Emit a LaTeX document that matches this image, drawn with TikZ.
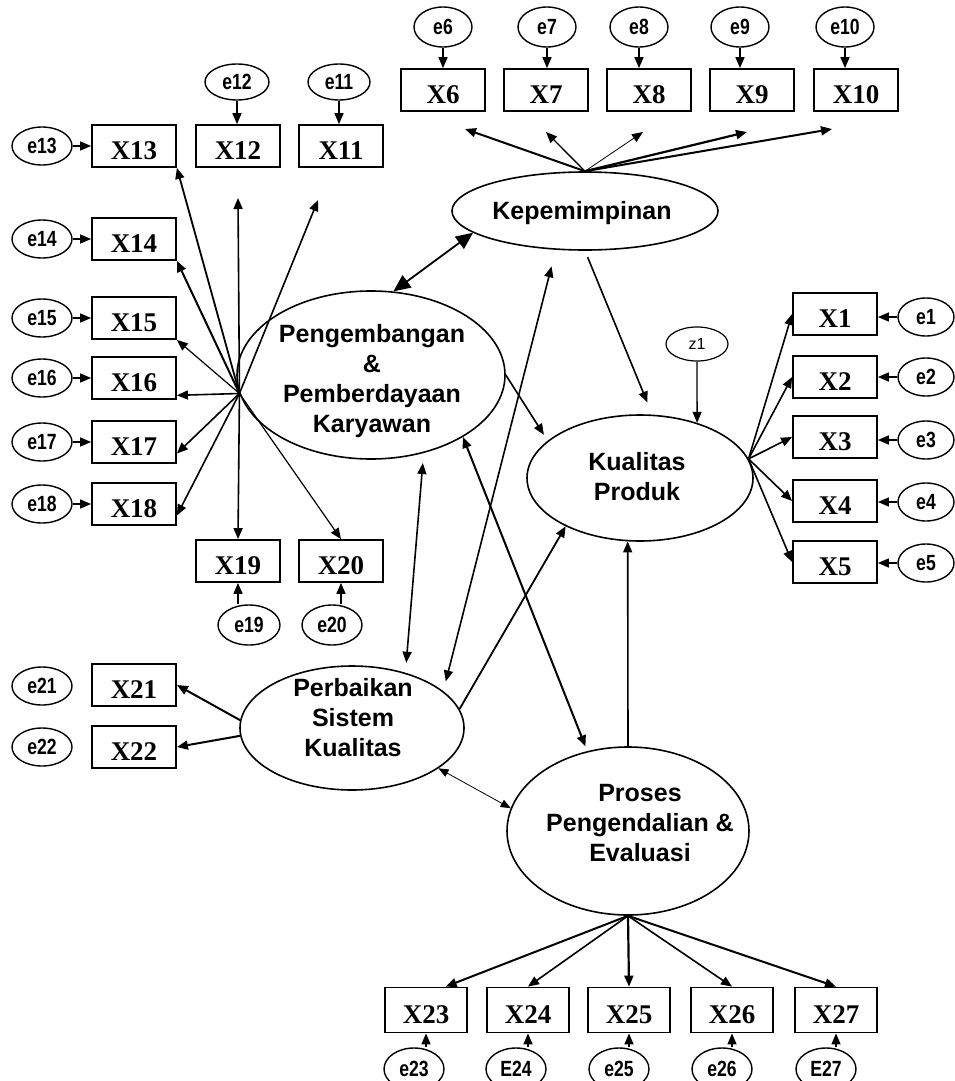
\documentclass[tikz,border=0pt]{standalone}
\usepackage{fontspec}
\setmainfont{Liberation Sans}
\newfontfamily\latf{Liberation Sans}
\newfontfamily\obsf{Liberation Serif}
\newfontfamily\errf{Liberation Sans}[FakeStretch=0.8]
\usetikzlibrary{shapes.geometric, arrows.meta, calc}
\tikzset{
 obs/.style={draw, line width=1.8pt, minimum width=84pt, minimum height=42pt, inner sep=0pt, text height=27pt, text depth=0pt, font=\obsf\bfseries\fontsize{27}{27}\selectfont},
 err/.style={draw, ellipse, line width=1.4pt, minimum width=60pt, minimum height=38pt, inner sep=0pt, font=\errf\bfseries\fontsize{22}{22}\selectfont},
 latent/.style={draw, ellipse, line width=1.6pt, inner sep=0pt},
 lattext/.style={align=center, inner sep=0pt, font=\latf\bfseries\fontsize{25}{30}\selectfont},
 arr/.style={-{Triangle[length=11pt,width=9pt]}, line width=1.6pt},
 darr/.style={{Triangle[length=11pt,width=9pt]}-{Triangle[length=11pt,width=9pt]}, line width=1.6pt},
 bigdarr/.style={{Triangle[length=17pt,width=15pt]}-{Triangle[length=17pt,width=15pt]}, line width=1.8pt},
}
\begin{document}
\begin{tikzpicture}[x=1pt,y=-1pt]
\useasboundingbox (0,0) rectangle (954,1081);

% ---------- latent variables
\node[latent, minimum width=266pt, minimum height=78pt] (kep) at (585,211) {};
\node[lattext] (kept) at (582,213) {Kepemimpinan};
\node[latent, minimum width=268pt, minimum height=168pt] (peng) at (371,375) {};
\node[lattext] (pengt) at (372,381) {Pengembangan\\\&\\Pemberdayaan\\Karyawan};
\node[latent, minimum width=226pt, minimum height=126pt] (kual) at (640,478) {};
\node[lattext] (kualt) at (637,477) {Kualitas\\Produk};
\node[latent, minimum width=224pt, minimum height=124pt] (perb) at (352,728) {};
\node[lattext] (perbt) at (353,718) {Perbaikan\\Sistem\\Kualitas};
\node[latent, minimum width=242pt, minimum height=168pt] (proc) at (628,831) {};
\node[lattext] (proct) at (640,823) {Proses\\Pengendalian \&\\Evaluasi};
\node[draw, ellipse, line width=1.2pt, minimum width=62pt, minimum height=34pt, inner sep=0pt, font=\latf\fontsize{16}{16}\selectfont] (z1) at (697,344) {z1};

% ---------- top indicators
\foreach \n/\x/\ex in {6/443/443, 7/546/547, 8/649/639, 9/752/740, 10/856/845}{
  \node[obs] (X\n) at (\x,90) {X\n};
  \node[err, minimum width=58pt, minimum height=40pt] (e\n) at (\ex,27) {e\n};
  \draw[arr] (e\n.south) -- (e\n.south |- X\n.north);
}
\coordinate (t6) at (465,129);
\coordinate (t7) at (546,132);
\coordinate (t8) at (643,132);
\coordinate (t9) at (747,132);
\coordinate (t10) at (832,129);
\draw[arr, line width=2pt] (kep.north) -- (t6);
\draw[arr, line width=1.3pt] (kep.north) -- (t7);
\draw[arr, line width=0.8pt] (kep.north) -- (t8);
\draw[arr, line width=2.2pt] (kep.north) -- (t9);
\draw[arr, line width=2pt] (kep.north) -- (t10);

% ---------- left indicators
\foreach \n/\y in {13/146, 14/239, 15/318, 16/378, 17/442, 18/504}{
  \node[obs] (X\n) at (134,\y) {X\n};
  \node[err] (e\n) at (42,\y) {e\n};
  \draw[arr] (e\n.east) -- (e\n.east -| X\n.west);
}
\node[obs] (X12) at (238,146) {X12};
\node[obs] (X11) at (341,146) {X11};
\node[err, minimum width=64pt, minimum height=36pt] (e12) at (237,82) {e12};
\node[err, minimum width=62pt, minimum height=36pt] (e11) at (339,82) {e11};
\draw[arr] (e12.south) -- (e12.south |- X12.north);
\draw[arr] (e11.south) -- (e11.south |- X11.north);
\node[obs] (X19) at (238,561) {X19};
\node[obs] (X20) at (341,561) {X20};
\node[err, minimum width=62pt, minimum height=40pt] (e19) at (249,625) {e19};
\node[err, minimum width=60pt, minimum height=40pt] (e20) at (332,625) {e20};
\draw[arr] (X19.south |- e19.north) -- (X19.south);
\draw[arr] (X20.south |- e20.north) -- (X20.south);
\node[obs] (X21) at (134,685) {X21};
\node[obs] (X22) at (134,747) {X22};
\node[err] (e21) at (42,686) {e21};
\node[err] (e22) at (42,747) {e22};

\coordinate (t12) at (238,198);
\coordinate (t11) at (318,200);
\draw[arr, line width=1.8pt] (peng.188) -- (X13.south east);
\draw[arr, line width=2pt] (peng.188) -- (X14.south east);
\draw[arr, line width=1.2pt] (peng.188) -- (X15.south east);
\draw[arr] (peng.188) -- (X16.-22);
\draw[arr] (peng.188) -- (X17.-15);
\draw[arr] (peng.188) -- (X18.-15);
\draw[arr] (peng.188) -- (X19.north);
\draw[arr, line width=1.2pt] (peng.188) -- (X20.north);
\draw[arr] (peng.188) -- (t12);
\draw[arr] (peng.188) -- (t11);

\draw[arr, line width=2pt] (perb.176) -- (X21.east);
\draw[arr, line width=2pt] (perb.184) -- (X22.east);

% ---------- right indicators
\foreach \n/\y/\ey in {1/314/317, 2/377/377, 3/437/440, 4/501/502, 5/562/563}{
  \node[obs] (X\n) at (835,\y) {X\n};
  \node[err, minimum width=56pt] (e\n) at (926,\ey) {e\n};
  \draw[arr] (e\n.west) -- (e\n.west -| X\n.east);
  \draw[arr] (kual.10) -- (X\n.west);
}

% ---------- bottom indicators
\foreach \n/\x/\ex/\el in {23/426/414/e23, 24/528/516/E24, 25/629/619/e25, 26/732/722/e26, 27/836/826/E27}{
  \node[obs, minimum width=82pt, minimum height=45pt] (X\n) at (\x,1010) {X\n};
  \node[err, minimum width=60pt, minimum height=42pt] (e\n) at (\ex,1069) {\el};
  \draw[arr] (X\n.south |- e\n.north) -- (X\n.south);
}
\draw[arr, line width=2pt] (proc.south) -- (X23.50);
\draw[arr, line width=1.6pt] (proc.south) -- (X24.north);
\draw[arr, line width=2.2pt] (proc.south) -- (X25.north);
\draw[arr, line width=1.6pt] (proc.south) -- (X26.north);
\draw[arr, line width=2pt] (proc.south) -- (X27.north);

% ---------- structural paths
\draw[bigdarr] (peng.75) -- (kep.191);
\draw[arr, shorten >=7pt] (peng.east) -- (kual.158);
\draw[darr, shorten <=10pt, shorten >=10pt] (peng.-56) -- (perb.46);
\draw[darr, line width=2pt, shorten >=5pt] (peng.-34) -- (proc.117);
\draw[darr, shorten <=10pt, shorten >=17pt] (perb.22) -- (kep.233);
\draw[arr, line width=1.8pt] (perb.10) -- (kual.213);
\draw[{Triangle[length=10pt,width=8pt]}-{Triangle[length=10pt,width=8pt]}, line width=0.8pt] (perb.-25) -- (proc.169);
\draw[arr] (proc.north) -- (kual.259);
\draw[arr, shorten <=7pt, shorten >=13pt] (kep.south) -- (kual.79);
\draw[arr, line width=1.3pt] (z1.south) -- (kual.44);
\end{tikzpicture}
\end{document}
